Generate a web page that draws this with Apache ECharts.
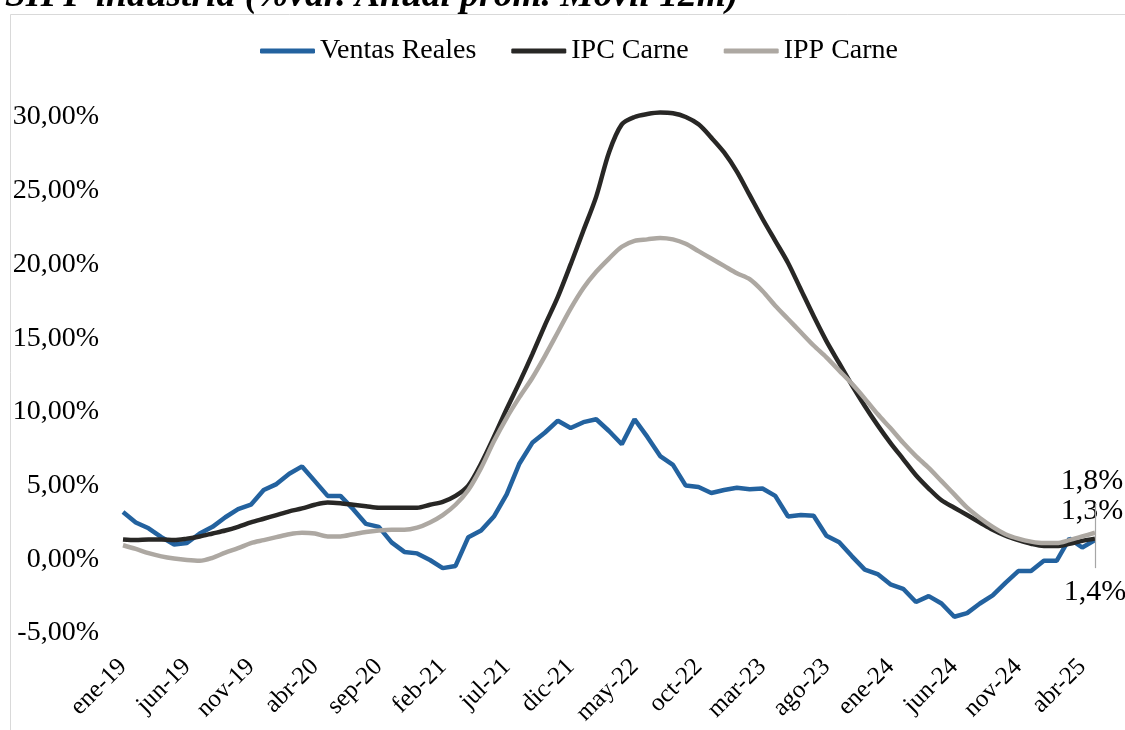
<!DOCTYPE html>
<html>
<head>
<meta charset="utf-8">
<title>SIPP industria</title>
<script src="https://cdn.jsdelivr.net/npm/echarts@6/dist/echarts.min.js"></script>
<style>
	html, body { margin: 0; padding: 0; background: #fff; }
	#chart { width: 1125px; height: 730px; }
</style>
</head>
<body>
<div id="chart"></div>
<script>
// meses ene-19 .. may-25
var meses = ['ene', 'feb', 'mar', 'abr', 'may', 'jun', 'jul', 'ago', 'sep', 'oct', 'nov', 'dic'];
var anios = ['19', '20', '21', '22', '23', '24', '25'];
var categorias = [];
for (var a = 0; a < anios.length; a++) {
	for (var m = 0; m < meses.length; m++) {
		if (a == anios.length - 1 && m > 4) break;
		categorias.push(meses[m] + '-' + anios[a]);
	}
}

var ventasReales = [3.2, 2.5, 2.1, 1.5, 1.0, 1.1, 1.75, 2.2, 2.85, 3.4, 3.7, 4.7, 5.1, 5.8, 6.3, 5.3, 4.3, 4.3, 3.4, 2.4,
	2.2, 1.15, 0.5, 0.4, -0.05, -0.6, -0.45, 1.5, 1.95, 2.9, 4.4, 6.5, 7.9, 8.6, 9.4, 8.9, 9.3, 9.5, 8.7, 7.8,
	9.5, 8.3, 7.0, 6.4, 5.0, 4.9, 4.5, 4.7, 4.85, 4.75, 4.8, 4.3, 2.9, 3.0, 2.95, 1.6, 1.15, 0.2, -0.7, -1.0,
	-1.7, -2.0, -2.9, -2.5, -3.0, -3.9, -3.65, -3.0, -2.45, -1.6, -0.8, -0.8, -0.1, -0.1, 1.4, 0.8, 1.3];

var ipcCarne = [1.35, 1.3, 1.35, 1.35, 1.3, 1.4, 1.55, 1.75, 1.95, 2.2, 2.5, 2.75, 3.0, 3.25, 3.45, 3.7, 3.85, 3.8, 3.7, 3.6,
	3.5, 3.5, 3.5, 3.5, 3.7, 3.9, 4.3, 5.0, 6.5, 8.3, 10.2, 12.0, 13.9, 15.9, 17.8, 20.0, 22.3, 24.6, 27.6, 29.5,
	30.0, 30.2, 30.3, 30.25, 30.0, 29.5, 28.6, 27.6, 26.3, 24.7, 23.1, 21.6, 20.1, 18.3, 16.5, 14.8, 13.3, 11.8, 10.4, 9.1,
	7.9, 6.8, 5.7, 4.8, 4.0, 3.5, 3.0, 2.5, 2.0, 1.6, 1.3, 1.05, 0.9, 0.9, 1.05, 1.25, 1.4];

var ippCarne = [0.95, 0.7, 0.42, 0.2, 0.05, -0.05, -0.1, 0.1, 0.45, 0.75, 1.1, 1.3, 1.5, 1.7, 1.8, 1.75, 1.55, 1.55, 1.7, 1.85,
	1.95, 2.0, 2.0, 2.15, 2.5, 3.0, 3.7, 4.7, 6.2, 8.0, 9.6, 11.0, 12.3, 13.8, 15.4, 17.0, 18.4, 19.5, 20.4, 21.2,
	21.6, 21.7, 21.8, 21.7, 21.4, 20.9, 20.4, 19.9, 19.4, 19.0, 18.2, 17.2, 16.3, 15.4, 14.5, 13.7, 12.8, 11.9, 10.9, 9.85,
	8.9, 7.9, 7.0, 6.2, 5.3, 4.4, 3.5, 2.8, 2.2, 1.7, 1.4, 1.2, 1.1, 1.1, 1.3, 1.55, 1.8];

// linea guia de la etiqueta de abajo (de / hasta, en %)
var guiaDesde = 3.8;
var guiaHasta = -0.6;

var fuente = 'Liberation Serif';

function pct1(v) {
	return v.toFixed(1).replace('.', ',') + '%';
}

// pone etiqueta solo al ultimo punto
function conEtiqueta(arr, pos, dist) {
	return arr.map(function (v, i) {
		if (i < arr.length - 1) return v;
		return {
			value: v,
			label: {
				show: true,
				position: pos,
				distance: dist,
				offset: [-3, 0],
				formatter: function (p) { return pct1(p.value); },
				color: '#000',
				fontSize: 30,
				fontFamily: fuente
			}
		};
	});
}

function serie(nombre, color, datos, z) {
	return {
		name: nombre,
		type: 'line',
		clip: false,
		symbol: 'circle',
		symbolSize: 0,
		showSymbol: true,
		showAllSymbol: true,
		color: color,
		lineStyle: { width: 4.5, color: color },
		z: z,
		data: datos
	};
}

var ultimo = categorias[categorias.length - 1];

var sVentas = serie('Ventas Reales', '#23629F', conEtiqueta(ventasReales, 'top', 14), 3);
var sIpc = serie('IPC Carne', '#282725', conEtiqueta(ipcCarne, 'bottom', 5), 4);
sIpc.smooth = 0.3;
sIpc.labelLayout = { dy: 33 };
sIpc.markLine = {
	silent: true,
	symbol: 'none',
	label: { show: false },
	lineStyle: { color: '#a6a6a6', width: 1.2, type: 'solid' },
	data: [[{ xAxis: ultimo, yAxis: guiaDesde }, { xAxis: ultimo, yAxis: guiaHasta }]]
};
var sIpp = serie('IPP Carne', '#ADA8A2', conEtiqueta(ippCarne, 'top', 37), 5);
sIpp.smooth = 0.3;

option = {
	backgroundColor: '#fff',
	animation: false,
	title: {
		text: 'SIPP industria (%var. Anual prom. Movil 12m)',
		left: 0,
		top: -28,
		textStyle: {
			fontFamily: fuente,
			fontStyle: 'italic',
			fontWeight: 'bold',
			fontSize: 37.5,
			color: '#000'
		}
	},
	graphic: [
		{
			type: 'rect',
			left: 8,
			top: 12,
			z: -1,
			shape: { width: 1300, height: 900 },
			style: { fill: 'none', stroke: '#d9d9d9', lineWidth: 1 }
		}
	],
	legend: {
		left: 255,
		top: 32,
		icon: 'roundRect',
		itemWidth: 55,
		itemHeight: 5,
		itemGap: 35,
		textStyle: { fontFamily: fuente, fontSize: 28, color: '#000' },
		data: ['Ventas Reales', 'IPC Carne', 'IPP Carne']
	},
	grid: {
		left: 123,
		right: 30,
		top: 117,
		bottom: 97
	},
	xAxis: {
		type: 'category',
		boundaryGap: false,
		data: categorias,
		axisLine: { show: false },
		axisTick: { show: false },
		splitLine: { show: false },
		axisLabel: {
			interval: 4,
			rotate: 45,
			margin: 30,
			color: '#000',
			fontSize: 25,
			fontFamily: fuente
		}
	},
	yAxis: {
		type: 'value',
		min: -5,
		max: 30,
		interval: 5,
		axisLine: { show: false },
		axisTick: { show: false },
		splitLine: { show: false },
		axisLabel: {
			margin: 24,
			color: '#000',
			fontSize: 28,
			fontFamily: fuente,
			formatter: function (v) { return v.toFixed(2).replace('.', ',') + '%'; }
		}
	},
	series: [sVentas, sIpc, sIpp]
};

var myChart = echarts.init(document.getElementById('chart'));
myChart.setOption(option);
</script>
</body>
</html>
